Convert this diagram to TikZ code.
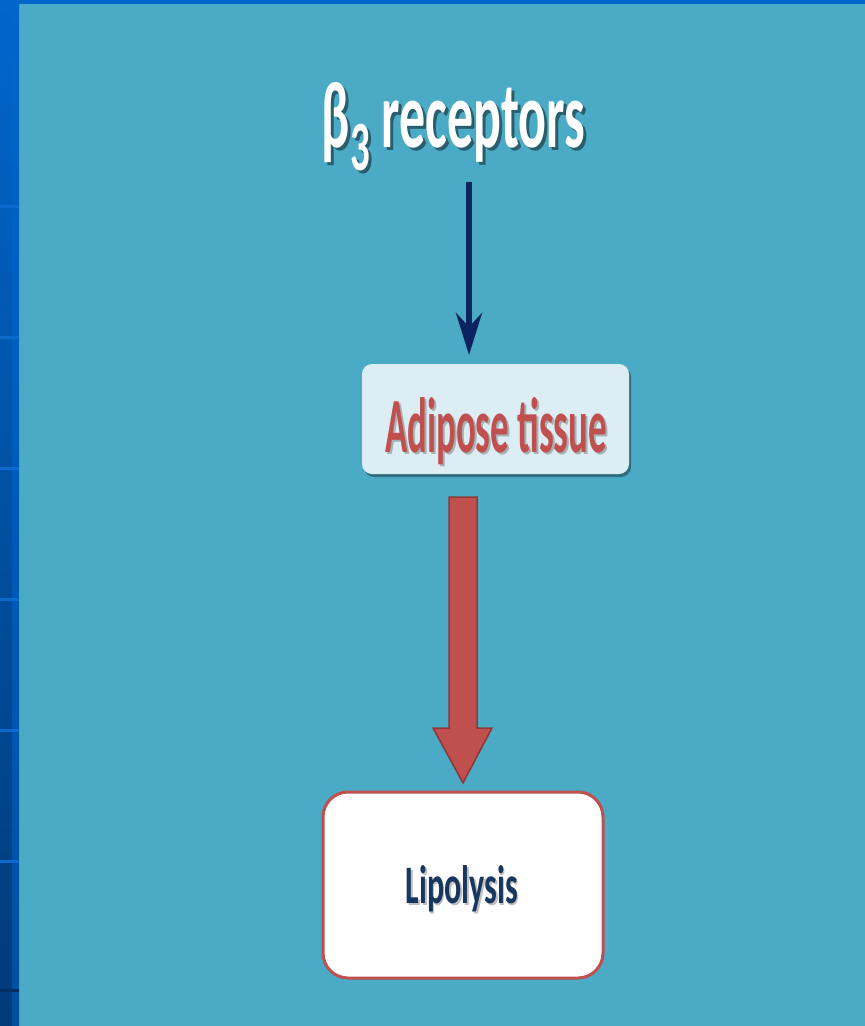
\documentclass[tikz,border=0pt]{standalone}
\usepackage{fontspec}
\setmainfont{Carlito}
\usepackage{graphicx}
\usetikzlibrary{arrows.meta,shadows}
\definecolor{bgteal}{HTML}{4BABC6}
\definecolor{stripA}{HTML}{0066CC}
\definecolor{stripB}{HTML}{003A78}
\definecolor{stripC}{HTML}{0050A0}
\definecolor{stripLine}{HTML}{0A6AD0}
\definecolor{navyarr}{HTML}{0B2460}
\definecolor{redfill}{HTML}{C0504D}
\definecolor{rededge}{HTML}{8C3836}
\definecolor{boxlight}{HTML}{DCEEF4}
\definecolor{lipotext}{HTML}{17375E}
\newcommand{\shadowedtext}[4]{% dx, dy, shadow colour, content
  \makebox[0pt][l]{\hspace*{#1}\raisebox{-#2}{\textcolor{#3}{#4}}}#4}
\tikzset{
  txt/.style={inner sep=0pt, anchor=base},
  adibox/.style={rectangle, rounded corners=10pt, fill=boxlight, minimum width=267pt, minimum height=110pt, inner sep=0pt,
    drop shadow={shadow xshift=2pt, shadow yshift=-3pt, opacity=0.35, fill=black}},
  lipobox/.style={rectangle, rounded corners=25pt, fill=white, draw=redfill, line width=3pt, minimum width=280pt, minimum height=186pt, inner sep=0pt},
  thinarrow/.style={draw=navyarr, line width=6pt, -{Stealth[length=42pt,width=26pt,inset=14pt]}},
  blockarrow/.style={fill=redfill, draw=rededge, line width=1.5pt, line join=miter},
}
\begin{document}
\begin{tikzpicture}[x=1pt,y=-1pt]
\useasboundingbox (0,0) rectangle (865,1026);
\fill[bgteal] (0,0) rectangle (865,1026);
% left strip
\shade[top color=stripA, bottom color=stripB] (0,0) rectangle (12,1026);
\shade[top color=stripA, bottom color=stripC] (12,0) rectangle (19,1026);
\foreach \yy in {205,336,467,598,729,860} {
  \fill[stripLine] (0,\yy) rectangle (19,\yy+3);
}
\fill[stripB!80!black] (0,989) rectangle (19,992);
% top strip
\fill[stripA] (0,0) rectangle (865,4);

% title
\node[txt, text=white] (t) at (453.5,147) {\shadowedtext{3pt}{3pt}{bgteal!55!black}{\resizebox{263pt}{65pt}{\bfseries β\raisebox{-0.25em}{\scalebox{0.75}{3}} receptors}}};

% adipose box
\node[adibox] (a) at (495.5,419) {};
\node[txt, text=redfill] (at) at (496,452) {\shadowedtext{2pt}{2pt}{boxlight!75!black}{\resizebox{222pt}{55pt}{\bfseries Adipose tissue}}};

% lipolysis box
\node[lipobox] (l) at (463,885) {};
\node[txt, text=lipotext] (lt) at (462,903) {\shadowedtext{1.5pt}{2pt}{white!75!black}{\resizebox{112pt}{38pt}{\bfseries Lipolysis}}};

% thin arrow
\coordinate (a1) at (469,182);
\coordinate (a2) at (469,355);
\draw[thinarrow] (a1) -- (a2);

% block arrow
\coordinate (b1) at (463,497);
\coordinate (b2) at (463,783);
\draw[blockarrow] (449,497) -- (477,497) -- (477,728) -- (492,728) -- (b2) -- (433,728) -- (449,728) -- cycle;
\end{tikzpicture}
\end{document}
